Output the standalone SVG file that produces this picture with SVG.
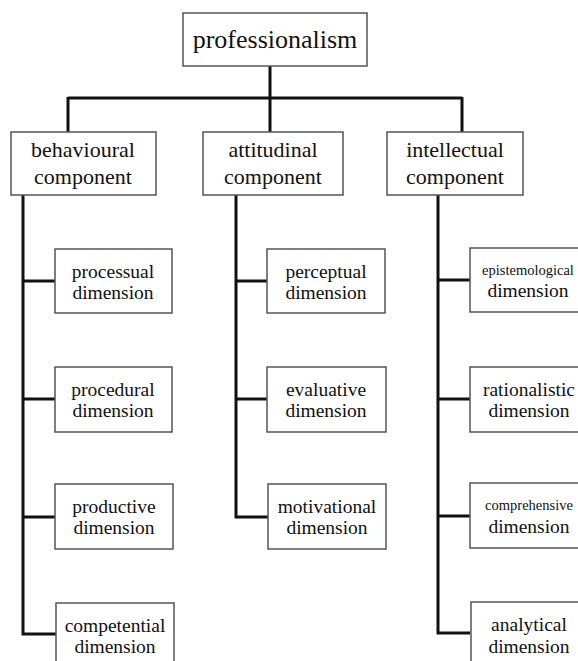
<svg xmlns="http://www.w3.org/2000/svg" width="578" height="661" viewBox="0 0 578 661">
<style>
.box{fill:#fff;stroke:#555;stroke-width:1.5}
text{font-family:'Liberation Serif','Times New Roman',serif;fill:#111;text-anchor:middle}
.top{font-size:26px}
.comp{font-size:22px}
.dim{font-size:19.5px}
.sm{font-size:14.5px}
.con{fill:none;stroke:#111;stroke-width:3;stroke-linejoin:miter}
</style>
<rect width="578" height="661" fill="#fff"/>
<g id="connectors">
<path class="con" d="M270 66V98M68 98H462M68 97V132M270 98V132M462 97V132"/>
<path class="con" d="M23 195V634H56M23 281H55M23 399H55M23 517H55"/>
<path class="con" d="M236 195V517H268M236 281H267M236 399H267"/>
<path class="con" d="M438 195V633H470M438 280H470M438 399H470M438 516H470"/>
</g>
<g id="professionalism"><rect class="box" x="183" y="13" width="184" height="53"/><text class="top" x="275" y="48">professionalism</text></g>
<g id="behavioural"><rect class="box" x="11" y="132" width="145" height="63"/><text class="comp" x="83" y="157">behavioural</text><text class="comp" x="83" y="184">component</text></g>
<g id="attitudinal"><rect class="box" x="203" y="132" width="140" height="63"/><text class="comp" x="273" y="157">attitudinal</text><text class="comp" x="273" y="184">component</text></g>
<g id="intellectual"><rect class="box" x="387" y="132" width="136" height="63"/><text class="comp" x="455" y="157">intellectual</text><text class="comp" x="455" y="184">component</text></g>
<g id="processual"><rect class="box" x="55" y="249" width="117" height="64"/><text class="dim" x="113" y="278">processual</text><text class="dim" x="113" y="299">dimension</text></g>
<g id="procedural"><rect class="box" x="55" y="367" width="117" height="65"/><text class="dim" x="113" y="396">procedural</text><text class="dim" x="113" y="417">dimension</text></g>
<g id="productive"><rect class="box" x="55" y="484" width="118" height="65"/><text class="dim" x="114" y="513">productive</text><text class="dim" x="114" y="534">dimension</text></g>
<g id="competential"><rect class="box" x="56" y="603" width="118" height="70"/><text class="dim" x="115" y="632">competential</text><text class="dim" x="115" y="653">dimension</text></g>
<g id="perceptual"><rect class="box" x="267" y="249" width="118" height="64"/><text class="dim" x="326" y="278">perceptual</text><text class="dim" x="326" y="299">dimension</text></g>
<g id="evaluative"><rect class="box" x="267" y="367" width="119" height="65"/><text class="dim" x="326" y="396">evaluative</text><text class="dim" x="326" y="417">dimension</text></g>
<g id="motivational"><rect class="box" x="268" y="484" width="118" height="65"/><text class="dim" x="327" y="513">motivational</text><text class="dim" x="327" y="534">dimension</text></g>
<g id="epistemological"><rect class="box" x="470" y="248" width="130" height="64"/><text class="sm" x="528" y="275">epistemological</text><text class="dim" x="528" y="297">dimension</text></g>
<g id="rationalistic"><rect class="box" x="470" y="367" width="130" height="65"/><text class="dim" x="529" y="396">rationalistic</text><text class="dim" x="529" y="417">dimension</text></g>
<g id="comprehensive"><rect class="box" x="470" y="483" width="130" height="65"/><text class="sm" x="529" y="510">comprehensive</text><text class="dim" x="529" y="533">dimension</text></g>
<g id="analytical"><rect class="box" x="471" y="602" width="130" height="70"/><text class="dim" x="529" y="631">analytical</text><text class="dim" x="529" y="653">dimension</text></g>
</svg>
